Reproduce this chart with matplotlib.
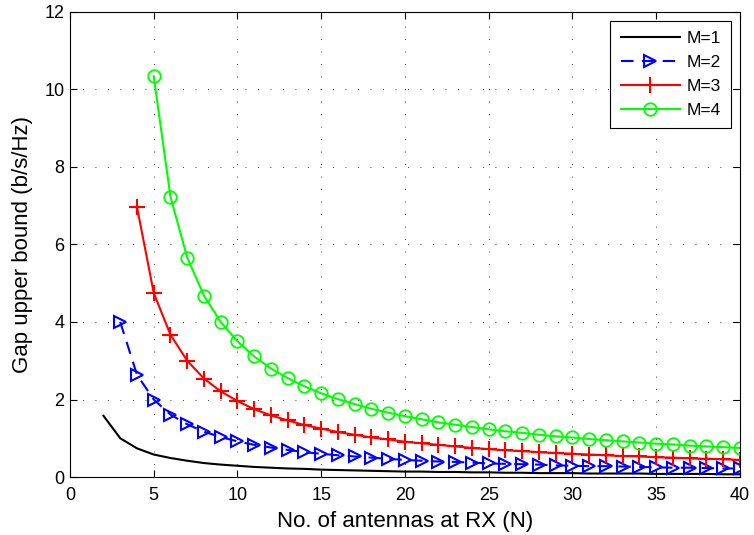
import matplotlib
matplotlib.use('Agg')
import matplotlib.pyplot as plt

# gap upper bound, one list per M
n1 = list(range(2, 41))
gap1 = [1.58, 1.00, 0.74, 0.58, 0.49, 0.42, 0.36, 0.32, 0.29, 0.26,
        0.24, 0.22, 0.21, 0.19, 0.18, 0.17, 0.16, 0.15, 0.14, 0.14,
        0.13, 0.13, 0.12, 0.12, 0.11, 0.11, 0.10, 0.10, 0.10, 0.09,
        0.09, 0.09, 0.09, 0.08, 0.08, 0.08, 0.08, 0.07, 0.07]

n2 = list(range(3, 41))
gap2 = [4.00, 2.64, 2.00, 1.61, 1.36, 1.17, 1.03, 0.92, 0.83, 0.76,
        0.70, 0.64, 0.60, 0.56, 0.53, 0.50, 0.47, 0.44, 0.42, 0.40,
        0.39, 0.37, 0.35, 0.34, 0.33, 0.32, 0.30, 0.29, 0.28, 0.28,
        0.27, 0.26, 0.25, 0.24, 0.24, 0.23, 0.22, 0.22]

n3 = list(range(4, 41))
gap3 = [6.97, 4.75, 3.67, 3.00, 2.54, 2.21, 1.96, 1.75, 1.59, 1.46,
        1.34, 1.25, 1.16, 1.09, 1.02, 0.97, 0.91, 0.87, 0.83, 0.79,
        0.75, 0.72, 0.69, 0.67, 0.64, 0.62, 0.60, 0.58, 0.56, 0.54,
        0.53, 0.51, 0.50, 0.48, 0.47, 0.46, 0.44]

n4 = list(range(5, 41))
gap4 = [10.34, 7.23, 5.66, 4.68, 4.00, 3.50, 3.11, 2.80, 2.55, 2.34,
        2.16, 2.01, 1.88, 1.76, 1.66, 1.57, 1.49, 1.41, 1.35, 1.29,
        1.23, 1.18, 1.14, 1.09, 1.05, 1.02, 0.98, 0.95, 0.92, 0.89,
        0.86, 0.84, 0.81, 0.79, 0.77, 0.75]

labels = ['M=1', 'M=2', 'M=3', 'M=4']

plt.rcParams['font.family'] = ['Liberation Sans', 'DejaVu Sans']

fig = plt.figure(figsize=(7.54, 5.35), dpi=100)
ax = fig.add_axes([0.0928, 0.1084, 0.8886, 0.8692])

ax.plot(n1, gap1, color='black', lw=1.5, label=labels[0])
ax.plot(n2, gap2, color='blue', lw=1.5, ls=(0, (6, 4)), marker='>',
        ms=9, mfc='none', mew=1.5, label=labels[1])
ax.plot(n3, gap3, color='red', lw=1.5, marker='+', ms=11, mew=1.5,
        label=labels[2])
ax.plot(n4, gap4, color=(0, 1, 0), lw=1.5, marker='o', ms=9, mfc='none',
        mew=1.3, label=labels[3])

ax.set_xlim(0, 40)
ax.set_ylim(0, 12)
ax.set_xticks(range(0, 41, 5))
ax.set_yticks(range(0, 13, 2))
ax.grid(True, color='black', ls=(0, (1, 14)), lw=0.6)
ax.tick_params(direction='in', top=True, right=True, labelsize=13,
               length=5, width=0.8)
ax.tick_params(axis='x', pad=7)
ax.tick_params(axis='y', pad=4)
for s in ax.spines.values():
    s.set_linewidth(0.8)

ax.set_xlabel('No. of antennas at RX (N)', fontsize=16, labelpad=5)
ax.set_ylabel('Gap upper bound (b/s/Hz)', fontsize=16, labelpad=8)

leg = ax.legend(loc='upper right', fontsize=12.5, handlelength=3.4,
                fancybox=False, framealpha=1, edgecolor='black',
                borderaxespad=0.5, borderpad=0.6, labelspacing=0.5,
                handletextpad=0.4)
leg.get_frame().set_linewidth(0.8)

fig.savefig('out.png', dpi=100)
